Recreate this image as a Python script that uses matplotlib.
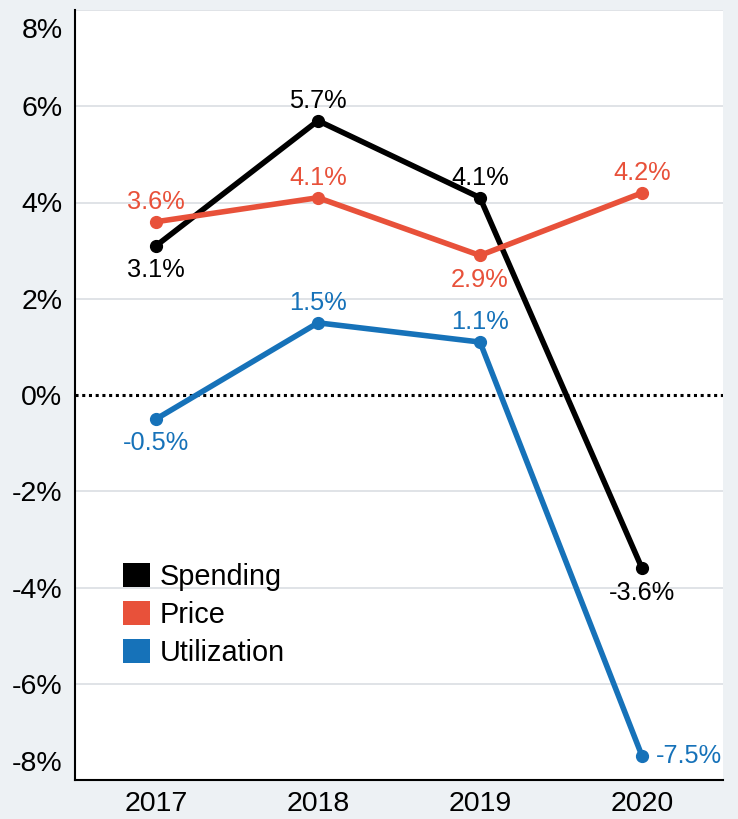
import matplotlib
matplotlib.use("Agg")
import matplotlib.pyplot as plt
import matplotlib.transforms as mtransforms
from matplotlib.patches import Patch

years = ["2017", "2018", "2019", "2020"]
spending = [3.1, 5.7, 4.1, -3.6]
price = [3.6, 4.1, 2.9, 4.2]
utilization = [-0.5, 1.5, 1.1, -7.5]
yticks = [-8, -6, -4, -2, 0, 2, 4, 6, 8]

c_black = "#000000"
c_red = "#e8513a"
c_blue = "#1672b9"
bg = "#edf1f4"

plt.rcParams["font.family"] = ["Liberation Sans", "DejaVu Sans"]

fig = plt.figure(figsize=(7.38, 8.19), dpi=100, facecolor=bg)
ax = fig.add_axes([75/738, 39/819, 648/738, 770/819])
ax.set_facecolor("white")

x = list(range(len(years)))
ax.set_xlim(-0.5, 3.5)
ax.set_ylim(-8, 8)

for v in yticks:
    if v in (0, -8):
        continue
    ax.axhline(v, color="#dde0e5", lw=1.3, zorder=0)
ax.axhline(0, color="black", lw=2.2, ls=(0, (1, 1.2)), zorder=1)

series = [
    (spending, c_black, "Spending", ["b", "a", "a", "b"]),
    (price, c_red, "Price", ["a", "a", "b", "a"]),
    (utilization, c_blue, "Utilization", ["b", "a", "a", "r"]),
]
for vals, col, name, pos in series:
    ax.plot(x, vals, color=col, lw=4, marker="o", ms=8.5, zorder=3,
            solid_capstyle="round")
    for xi, v, p in zip(x, vals, pos):
        txt = f"{v:.1f}%"
        if p == "a":
            off, ha = (0, 14.5), "center"
        elif p == "b":
            off, ha = (0, -17.5), "center"
        else:
            off, ha = (10, 0), "left"
        ax.annotate(txt, (xi, v), xytext=off, textcoords="offset points",
                    ha=ha, va="center", color=col, fontsize=18.3, zorder=4)

ax.set_xticks(x)
ax.set_xticklabels(years, fontsize=20.5)
ax.set_yticks(yticks)
ylabels = [f"{v}%" for v in yticks]
ax.set_yticklabels(["" if v in (-8, 8) else l for v, l in zip(yticks, ylabels)],
                   fontsize=20.5)
ax.tick_params(length=0, pad=9)
ax.tick_params(axis="x", pad=8)

# end labels nudged inward, as in the original
top_tr = ax.transData + mtransforms.ScaledTranslation(-9/72, -21/100, fig.dpi_scale_trans)
bot_tr = ax.transData + mtransforms.ScaledTranslation(-9/72, 16/100, fig.dpi_scale_trans)
ax.text(-0.5, yticks[-1], ylabels[-1], transform=top_tr, ha="right", va="center",
        fontsize=20.5)
ax.text(-0.5, yticks[0], ylabels[0], transform=bot_tr, ha="right", va="center",
        fontsize=20.5)

for s in ["top", "right"]:
    ax.spines[s].set_visible(False)
for s in ["left", "bottom"]:
    ax.spines[s].set_linewidth(1.5)
    ax.spines[s].set_color("black")

handles = [Patch(facecolor=c, edgecolor="none") for c in (c_black, c_red, c_blue)]
ax.legend(handles, ["Spending", "Price", "Utilization"], loc="upper left",
          bbox_to_anchor=(0.074, 0.282), frameon=False, fontsize=20.8,
          handlelength=0.93, handleheight=0.93, labelspacing=0.34,
          handletextpad=0.35, borderpad=0, borderaxespad=0)

fig.savefig("out.png", dpi=100, facecolor=bg)
